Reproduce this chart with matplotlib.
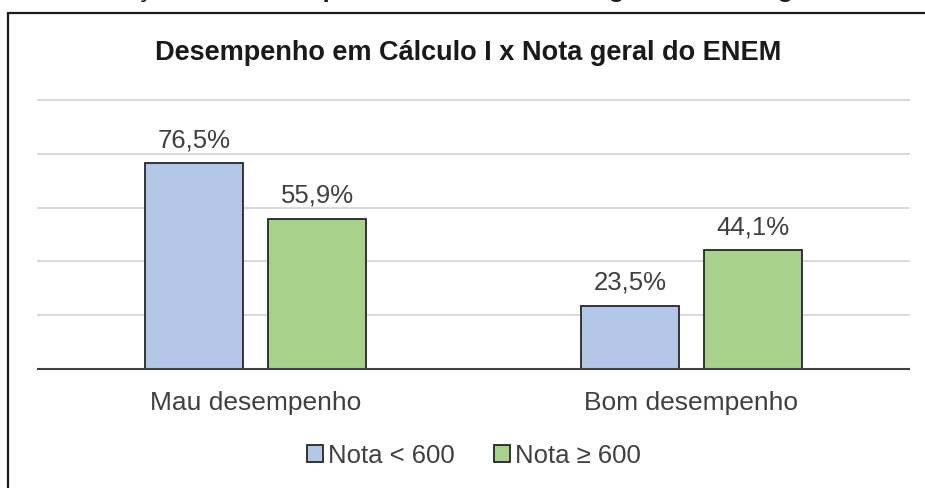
import matplotlib
matplotlib.use("Agg")
import matplotlib.pyplot as plt
from matplotlib.patches import Rectangle

plt.rcParams['font.family'] = ['Liberation Sans', 'DejaVu Sans']

categories = ['Mau desempenho', 'Bom desempenho']
series_names = ['Nota < 600', 'Nota \u2265 600']
nota_baixa = [76.5, 23.5]
nota_alta = [55.9, 44.1]
y_ticks = [0, 20, 40, 60, 80, 100]
title = 'Desempenho em Cálculo I x Nota geral do ENEM'
caption = 'Distribuição dos desempenhos em Cálculo I segundo a nota geral do ENEM'

W, H = 925, 488
fig = plt.figure(figsize=(W / 100, H / 100), dpi=100)

# outer frame of the chart (right/bottom run off the picture)
fig.patches.append(Rectangle((8 / W, -0.1), 1.2, 1.1 - 13 / H,
                             transform=fig.transFigure, fill=False,
                             lw=1.6, ec='#1a1a1a'))

# caption above the frame, only its lowest pixels remain in the picture
fig.text(32 / W, 1 + 2.5 / H, caption, fontsize=18.5, weight='bold',
         va='baseline', ha='left', color='#1a1a1a')

ax = fig.add_axes([38 / W, 119 / H, (909 - 38) / W, (369 - 100) / H])
x = [0, 1]
bw = 0.225
off = 0.141
b1 = ax.bar([i - off for i in x], nota_baixa, bw, color='#B4C7E7',
            ec='#262626', lw=1.3, label=series_names[0], zorder=3)
b2 = ax.bar([i + off for i in x], nota_alta, bw, color='#A9D18E',
            ec='#262626', lw=1.3, label=series_names[1], zorder=3)

fmt = lambda v: f'{v:.1f}%'.replace('.', ',')
for bars, vals in ((b1, nota_baixa), (b2, nota_alta)):
    ax.bar_label(bars, labels=[fmt(v) for v in vals], padding=8,
                 fontsize=18.5, color='#404040')

ax.set_xlim(-0.5, 1.5)
ax.set_ylim(0, 100)
ax.set_yticks(y_ticks)
ax.set_xticks(x)
ax.set_xticklabels(categories, fontsize=19, color='#404040')
ax.tick_params(axis='x', length=0, pad=16)
ax.tick_params(axis='y', length=0, labelleft=False)
ax.yaxis.grid(True, color='#D9D9D9', lw=1.4, zorder=0)
for gl in ax.get_ygridlines():
    gl.set_clip_on(False)
for s in ['top', 'left', 'right']:
    ax.spines[s].set_visible(False)
ax.spines['bottom'].set_color('#404040')
ax.spines['bottom'].set_linewidth(1.5)
ax.spines['bottom'].set_zorder(4)
ax.set_facecolor('none')

fig.text(468 / W, 1 - 60 / H, title, fontsize=19.5, weight='bold',
         ha='center', va='baseline', color='#1a1a1a')

fig.legend(handles=[b1, b2], loc='center', bbox_to_anchor=(474 / W, 1 - 456 / H),
           ncol=2, frameon=False, fontsize=18.5, handlelength=0.64,
           handleheight=0.64, handletextpad=0.2, columnspacing=1.5,
           labelcolor='#404040', borderaxespad=0)

fig.savefig('out.png', dpi=100)
